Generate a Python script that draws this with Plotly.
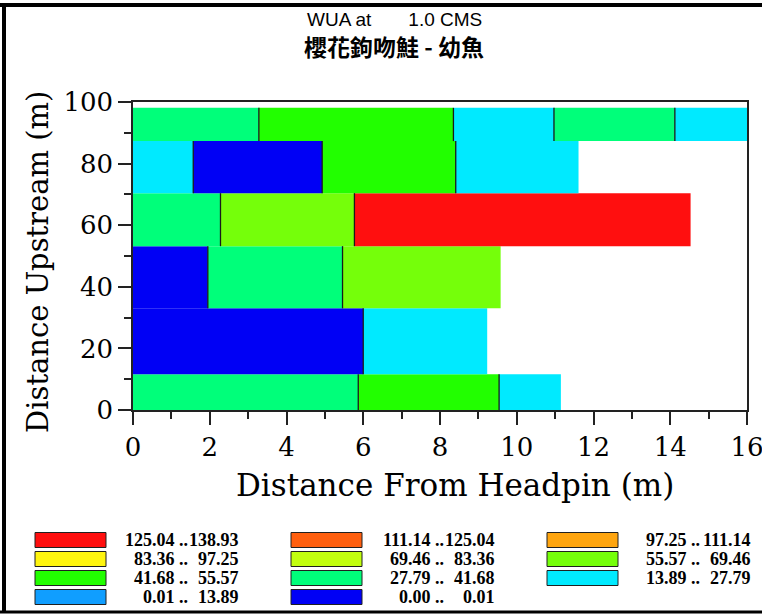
import plotly.graph_objects as go

# ---- WUA classes (legend order: row by row, three per row) ----
class_lo = [125.04, 111.14, 97.25, 83.36, 69.46, 55.57, 41.68, 27.79, 13.89, 0.01, 0.00]
class_hi = [138.93, 125.04, 111.14, 97.25, 83.36, 69.46, 55.57, 41.68, 27.79, 13.89, 0.01]
class_colors = ["#FF0F0F", "#FF5F0F", "#FFA50F", "#FFF50F", "#C2FF0F", "#75FF0A",
                "#22FF00", "#00FF7A", "#00EAFF", "#109EFF", "#0000F5"]

# ---- cells: one band per transect, split across the channel ----
row_bottom = [0.0, 11.6, 33.0, 53.2, 70.4, 87.3]
row_top = [11.6, 33.0, 53.2, 70.4, 87.3, 98.1]
cell_edges = [
    [0.0, 5.87, 9.54, 11.15],
    [0.0, 6.00, 9.23],
    [0.0, 1.95, 5.46, 9.58],
    [0.0, 2.28, 5.77, 14.53],
    [0.0, 1.57, 4.93, 8.41, 11.61],
    [0.0, 3.28, 8.35, 10.97, 14.12, 16.0],
]
cell_class = [
    [7, 6, 8],
    [10, 8],
    [10, 7, 5],
    [7, 5, 0],
    [8, 10, 6, 8],
    [7, 6, 8, 7, 8],
]

x_ticks = [0, 2, 4, 6, 8, 10, 12, 14, 16]
y_ticks = [0, 20, 40, 60, 80, 100]

W, H = 762, 615


def px(x):
    return x / W


def py(y):
    return 1 - y / H


# build the bar arrays for all cells
bar_y, bar_w, bar_base, bar_len, bar_col = [], [], [], [], []
line_x, line_y = [], []
for r in range(len(row_bottom)):
    y0, y1 = row_bottom[r], row_top[r]
    edges = cell_edges[r]
    for k, cls in enumerate(cell_class[r]):
        bar_y.append((y0 + y1) / 2)
        bar_w.append(y1 - y0)
        bar_base.append(edges[k])
        bar_len.append(edges[k + 1] - edges[k])
        bar_col.append(class_colors[cls])
    for e in edges[1:-1]:
        line_x += [e, e, None]
        line_y += [y0, y1, None]

fig = go.Figure()
fig.add_trace(go.Bar(
    orientation="h", y=bar_y, x=bar_len, base=bar_base, width=bar_w,
    marker=dict(color=bar_col, line=dict(width=0)),
    hoverinfo="skip", showlegend=False,
))
fig.add_trace(go.Scatter(
    x=line_x, y=line_y, mode="lines",
    line=dict(color="#1a1a1a", width=1.3),
    hoverinfo="skip", showlegend=False,
))

tick_font = dict(family="DejaVu Serif", size=26, color="black")
axis_common = dict(
    showgrid=False, zeroline=False, showline=True, mirror=True,
    linecolor="#222222", linewidth=1.5,
    ticks="outside", ticklen=13, tickwidth=1.5, tickcolor="#222222",
    tickfont=tick_font, automargin=False, ticklabeloverflow="allow",
)
fig.update_xaxes(
    range=[0, 16], tickvals=x_ticks, domain=[px(133), px(747)],
    minor=dict(ticks="outside", dtick=1, ticklen=7, tickwidth=1.5, tickcolor="#222222"),
    **axis_common,
)
fig.update_yaxes(
    range=[0, 100], tickvals=y_ticks, domain=[py(410), py(102)],
    minor=dict(ticks="outside", dtick=10, ticklen=7, tickwidth=1.5, tickcolor="#222222"),
    **axis_common,
)

annotations = [
    dict(text="WUA at\u00a0\u00a0\u00a0\u00a0\u00a0\u00a0\u00a01.0 CMS", x=px(394), y=py(20),
         font=dict(family="Liberation Sans", size=19, color="black")),
    dict(text="櫻花鉤吻鮭 - 幼魚", x=px(394), y=py(46),
         font=dict(family="Noto Sans CJK TC", size=23, color="black", weight="bold")),
    dict(text="Distance From Headpin (m)", x=px(455), y=py(485),
         font=dict(family="DejaVu Serif", size=31, color="black")),
    dict(text="Distance Upstream (m)", x=px(38), y=py(262), textangle=-90,
         font=dict(family="DejaVu Serif", size=29, color="black")),
]

shapes = []
# legend swatches and range labels
leg_font = dict(family="Liberation Serif", size=18, color="black", weight="bold")
for i in range(len(class_lo)):
    row, col = divmod(i, 3)
    dx = col * 256
    yc = 540 + row * 19
    shapes.append(dict(type="rect", xref="paper", yref="paper",
                       x0=px(35 + dx), x1=px(106 + dx), y0=py(yc - 7.5), y1=py(yc + 7.5),
                       fillcolor=class_colors[i], line=dict(color="#202020", width=1)))
    annotations.append(dict(text=f"{class_lo[i]:.2f} ..", x=px(190 + dx), y=py(yc),
                            xanchor="right", font=leg_font))
    annotations.append(dict(text=f"{class_hi[i]:.2f}", x=px(241 + dx), y=py(yc),
                            xanchor="right", font=leg_font))

# outer frame
shapes += [
    dict(type="line", xref="paper", yref="paper", x0=0, x1=1, y0=py(5), y1=py(5),
         line=dict(color="black", width=4)),
    dict(type="line", xref="paper", yref="paper", x0=px(4), x1=px(4), y0=py(3), y1=py(613),
         line=dict(color="black", width=4)),
    dict(type="line", xref="paper", yref="paper", x0=0, x1=1, y0=py(612), y1=py(612),
         line=dict(color="black", width=3)),
]

for a in annotations:
    a.setdefault("xref", "paper")
    a.setdefault("yref", "paper")
    a.setdefault("showarrow", False)
    a.setdefault("xanchor", "center")
    a.setdefault("yanchor", "middle")

fig.update_layout(
    width=W, height=H,
    margin=dict(l=0, r=0, t=0, b=0),
    paper_bgcolor="white", plot_bgcolor="white",
    barmode="overlay",
    annotations=annotations, shapes=shapes,
    showlegend=False,
)

fig.write_html("out.html", config={"displayModeBar": False})
